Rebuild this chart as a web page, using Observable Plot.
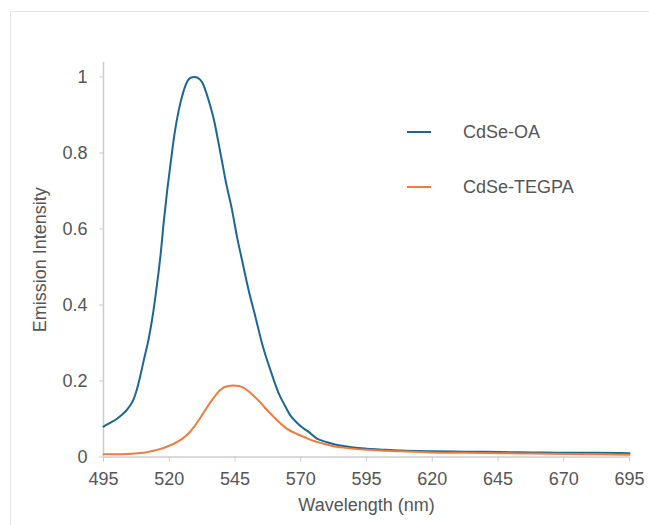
<!DOCTYPE html>
<html>
<head>
<meta charset="utf-8">
<script src="https://cdn.jsdelivr.net/npm/d3@7"></script>
<script src="https://cdn.jsdelivr.net/npm/@observablehq/plot@0.6"></script>
<style>
  body { margin: 0; background: #fff; font-family: "Liberation Sans", Arial, Helvetica, sans-serif; }
  #wrap { position: relative; width: 649px; height: 525px; overflow: hidden; background: #fff; }
  #frame { position: absolute; left: 10px; top: 11px; width: 700px; height: 600px;
           border-top: 1px solid #e3e3e3; border-left: 1px solid #e3e3e3; }
  #chart { position: absolute; left: 0; top: 0; }
  .legline { position: absolute; height: 2px; width: 24px; }
  .legtext { position: absolute; font-size: 18px; line-height: 20px; color: #555; white-space: nowrap; }
</style>
</head>
<body>
<div id="wrap">
  <div id="frame"></div>
  <div id="chart"></div>
</div>
<script>
// ---- Data ----
const seriesNames = ["CdSe-OA", "CdSe-TEGPA"];
const seriesColors = ["#1c6792", "#f07c3c"];

const wavelengthOA = [495, 497.5, 500, 502, 503.5, 505, 506.5, 507.8, 509, 510.3, 512, 512.9, 514, 514.8, 516, 516.7,
  517.9, 519.2, 520.5, 522, 523.6, 525.5, 527, 528.1, 529.5, 531, 532.5, 534, 535, 536.9, 538.8, 540, 541.4,
  543.9, 545.8, 547.7, 550.2, 552.8, 555.3, 558.5, 561.7, 564, 566.1, 568, 570, 573, 576, 580, 583, 587, 590,
  595, 600, 608, 620, 633, 646, 658, 671, 683, 695];
const intensityOA = [0.080, 0.090, 0.100, 0.111, 0.121, 0.134, 0.153, 0.180, 0.214, 0.254, 0.305, 0.338, 0.385, 0.425, 0.490, 0.532,
  0.618, 0.700, 0.772, 0.850, 0.912, 0.964, 0.990, 0.998, 1.000, 0.997, 0.986, 0.960, 0.938, 0.890, 0.824, 0.780, 0.728,
  0.649, 0.578, 0.517, 0.438, 0.368, 0.298, 0.228, 0.166, 0.135, 0.109, 0.094, 0.081, 0.066, 0.049, 0.039, 0.033, 0.028, 0.025,
  0.022, 0.020, 0.017, 0.015, 0.014, 0.013, 0.012, 0.011, 0.011, 0.010];

const wavelengthTEGPA = [495, 500, 504, 508, 511, 513, 516, 519, 522, 524.3, 527, 529.3, 531.5, 534.4, 537, 539.5, 542,
  544.5, 546.5, 548.3, 551, 554.7, 557, 559.8, 562, 564.8, 568, 571.5, 575, 578, 582, 587, 595, 608, 620, 633, 646,
  658, 671, 683, 695];
const intensityTEGPA = [0.007, 0.007, 0.008, 0.010, 0.012, 0.015, 0.020, 0.027, 0.036, 0.045, 0.060, 0.078, 0.100, 0.131, 0.157, 0.177, 0.186,
  0.188, 0.187, 0.182, 0.168, 0.143, 0.125, 0.105, 0.090, 0.074, 0.062, 0.052, 0.042, 0.036, 0.029, 0.024, 0.019, 0.015, 0.012, 0.011, 0.010,
  0.009, 0.008, 0.007, 0.006];

const xTicks = [495, 520, 545, 570, 595, 620, 645, 670, 695];
const yTicks = [0, 0.2, 0.4, 0.6, 0.8, 1];
const xLabel = "Wavelength (nm)";
const yLabel = "Emission Intensity";

// ---- Build table ----
const rows = [
  ...wavelengthOA.map((w, i) => ({series: seriesNames[0], wl: w, v: intensityOA[i]})),
  ...wavelengthTEGPA.map((w, i) => ({series: seriesNames[1], wl: w, v: intensityTEGPA[i]}))
];

const axisColor = "#cccccc";
const textColor = "#555555";

const chart = Plot.plot({
  width: 649,
  height: 525,
  marginLeft: 103,
  marginRight: 20,
  marginTop: 62,
  marginBottom: 68.5,
  x: {domain: [495, 695]},
  y: {domain: [0, 1.038]},
  color: {domain: seriesNames, range: seriesColors},
  style: {fontFamily: "'Liberation Sans', Arial, Helvetica, sans-serif", fontSize: "18px", color: textColor, background: "transparent"},
  marks: [
    Plot.ruleX([495], {stroke: axisColor, strokeWidth: 1.5}),
    Plot.ruleY([0], {stroke: axisColor, strokeWidth: 1.5}),
    Plot.axisX({ticks: xTicks, tickSize: 5, tickPadding: 10, stroke: axisColor, fill: textColor, tickFormat: d => String(d), label: null}),
    Plot.axisY({ticks: yTicks, tickSize: 4, tickPadding: 12, stroke: axisColor, fill: textColor, tickFormat: d => String(d), label: null}),
    Plot.line(rows, {x: "wl", y: "v", z: "series", stroke: "series", strokeWidth: 2, curve: "monotone-x"}),
    Plot.text([xLabel], {frameAnchor: "bottom", dy: 48.5, lineAnchor: "middle", textAnchor: "middle", fill: textColor, fontSize: 18}),
    Plot.text([yLabel], {frameAnchor: "left", dx: -63, rotate: -90, lineAnchor: "middle", textAnchor: "middle", fill: textColor, fontSize: 18})
  ]
});
document.getElementById("chart").appendChild(chart);

// ---- Legend (HTML overlay inside plot area) ----
const wrap = document.getElementById("wrap");
const legendTops = [132, 187];
seriesNames.forEach((name, i) => {
  const ln = document.createElement("div");
  ln.className = "legline";
  ln.style.left = "407px";
  ln.style.top = (legendTops[i] - 1) + "px";
  ln.style.background = seriesColors[i];
  wrap.appendChild(ln);
  const tx = document.createElement("div");
  tx.className = "legtext";
  tx.style.left = "463px";
  tx.style.top = (legendTops[i] - 10) + "px";
  tx.textContent = name;
  wrap.appendChild(tx);
});
</script>
</body>
</html>
